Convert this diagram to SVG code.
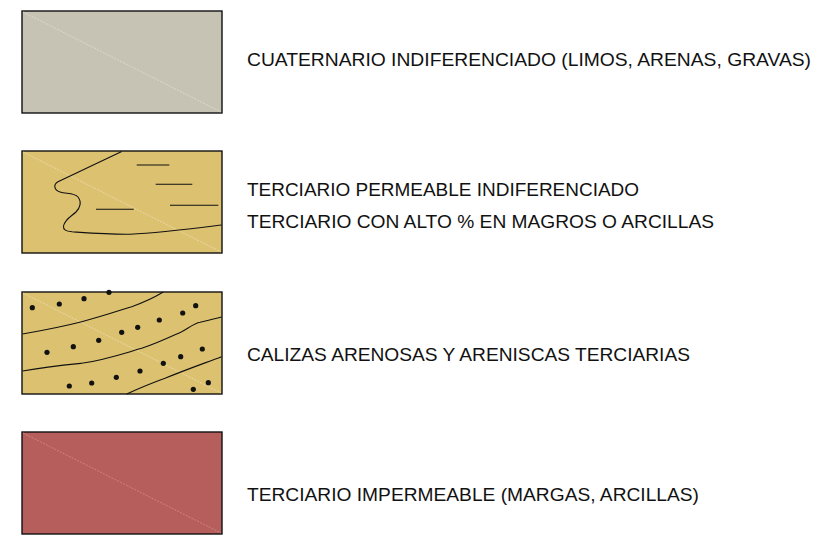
<svg xmlns="http://www.w3.org/2000/svg" width="826" height="540" viewBox="0 0 826 540">
<style>
.box{stroke:#111;stroke-width:1.4}
.diag{fill:none;stroke-width:0.7;stroke-dasharray:2 1.2}
.ln{fill:none;stroke:#111;stroke-width:1.1}
.dot{fill:#111}
.lbl{font-family:"Liberation Sans",Arial,sans-serif;font-size:18px;fill:#111}
</style>
<rect width="826" height="540" fill="#fff"/>
<g id="legend-cuaternario">
<rect class="box" x="22" y="11" width="200" height="102" fill="#C7C3B4"/>
<line class="diag" x1="23" y1="12" x2="221" y2="112" stroke="#E6E2D4"/>
<text class="lbl" x="247" y="65.5" textLength="564" lengthAdjust="spacingAndGlyphs">CUATERNARIO INDIFERENCIADO (LIMOS, ARENAS, GRAVAS)</text>
</g>
<g id="legend-terciario-permeable">
<rect class="box" x="22" y="151" width="200" height="102" fill="#DCC270"/>
<line class="diag" x1="23" y1="152" x2="221" y2="252" stroke="#EEE2B8"/>
<path class="ln" d="M121.7,151.5 L58,181.7 C53,184.5 54,190 60,192 C66,194 74,192.5 78,197 C82,202 80,208 76,212 C71,216.5 65,219 63.5,226 C63,230 66,231 72,231.8 C90,233 110,234.5 130,234.2 C160,233 190,229 221.5,225"/>
<line class="ln" x1="136.7" y1="165" x2="169.3" y2="165"/>
<line class="ln" x1="155.7" y1="184.3" x2="192.3" y2="184.3"/>
<line class="ln" x1="170" y1="205.3" x2="218.3" y2="205.3"/>
<line class="ln" x1="96" y1="209.3" x2="133.7" y2="209.3"/>
<text class="lbl" x="247" y="196" textLength="392" lengthAdjust="spacingAndGlyphs">TERCIARIO PERMEABLE INDIFERENCIADO</text>
<text class="lbl" x="247" y="228.3" textLength="467" lengthAdjust="spacingAndGlyphs">TERCIARIO CON ALTO % EN MAGROS O ARCILLAS</text>
</g>
<g id="legend-calizas">
<rect class="box" x="22" y="292" width="200" height="102" fill="#DCC270"/>
<line class="diag" x1="23" y1="293" x2="221" y2="393" stroke="#EEE2B8"/>
<path class="ln" d="M22.5,334 C45,330 65,326 81.7,321.7 C100,317 118,311 131.7,306.7 C145,302 155,297 163.3,292"/>
<path class="ln" d="M22.5,371 C45,367 65,365 81.7,363.3 C105,360 125,353 141.7,348.3 C160,342 172,336 181.7,331.7 C190,327 195,323 200,322.3 C208,320.5 215,318.5 221.5,317"/>
<path class="ln" d="M126.7,394 C140,388 152,383 165,378.3 C185,370 205,363 221.5,356.7"/>
<g class="dot">
<circle cx="109" cy="292.3" r="2.6"/>
<circle cx="32.3" cy="307.7" r="2.6"/>
<circle cx="59.3" cy="304" r="2.6"/>
<circle cx="84" cy="298.7" r="2.6"/>
<circle cx="195.7" cy="305.7" r="2.6"/>
<circle cx="182.7" cy="313" r="2.6"/>
<circle cx="159.3" cy="320" r="2.6"/>
<circle cx="137.7" cy="327.3" r="2.6"/>
<circle cx="121.7" cy="332.3" r="2.6"/>
<circle cx="98.7" cy="340.3" r="2.6"/>
<circle cx="73.3" cy="346.7" r="2.6"/>
<circle cx="47" cy="352.3" r="2.6"/>
<circle cx="202.3" cy="349" r="2.6"/>
<circle cx="180.7" cy="356.7" r="2.6"/>
<circle cx="163.3" cy="363.3" r="2.6"/>
<circle cx="140" cy="371" r="2.6"/>
<circle cx="116.3" cy="377.3" r="2.6"/>
<circle cx="91.7" cy="383" r="2.6"/>
<circle cx="69.3" cy="386" r="2.6"/>
<circle cx="208.3" cy="382.7" r="2.6"/>
<circle cx="193.3" cy="389.3" r="2.6"/>
</g>
<text class="lbl" x="247" y="360.5" textLength="443" lengthAdjust="spacingAndGlyphs">CALIZAS ARENOSAS Y ARENISCAS TERCIARIAS</text>
</g>
<g id="legend-terciario-impermeable">
<rect class="box" x="22" y="432" width="200" height="102" fill="#B55E5B"/>
<line class="diag" x1="23" y1="433" x2="221" y2="533" stroke="#D8948C"/>
<text class="lbl" x="247" y="500.5" textLength="452" lengthAdjust="spacingAndGlyphs">TERCIARIO IMPERMEABLE (MARGAS, ARCILLAS)</text>
</g>
<g id="connectors"/>
</svg>
